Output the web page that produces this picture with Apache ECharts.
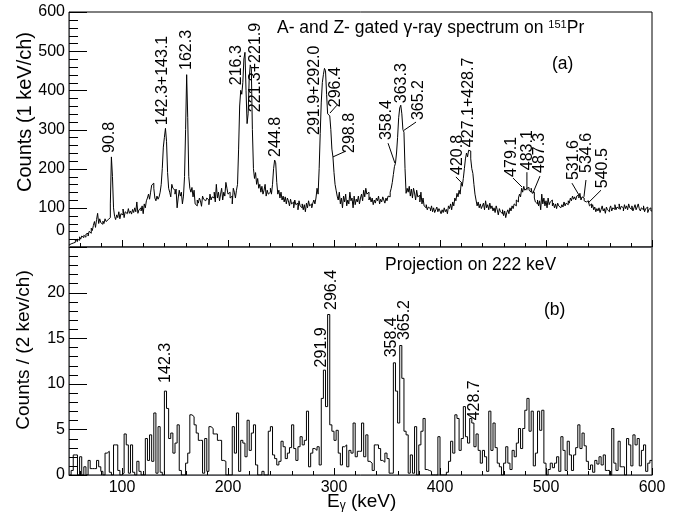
<!DOCTYPE html>
<html>
<head>
<meta charset="utf-8">
<script src="https://cdn.jsdelivr.net/npm/echarts@6/dist/echarts.min.js"></script>
<style>
html, body { margin: 0; padding: 0; background: #fff; }
#main { width: 679px; height: 517px; }
</style>
</head>
<body>
<div id="main"></div>
<script>
// energy range of both spectra (keV)
var eStart = 50;
var eEnd = 600;

// (a) A- and Z- gated spectrum, 1 keV/ch, from 50 keV
var gatedWidth = 1;
var gatedCounts = [
  5, 8, 12, 10, 15, 12, 18, 14, 20, 17,
  26, 20, 28, 24, 30, 25, 33, 35, 28, 40,
  35, 48, 42, 55, 65, 50, 70, 86, 60, 72,
  62, 58, 66, 60, 72, 65, 70, 68, 75, 110,
  230, 180, 100, 78, 70, 82, 75, 90, 72, 85,
  82, 97, 75, 90, 85, 80, 98, 86, 92, 84,
  96, 88, 100, 90, 115, 86, 95, 100, 92, 105,
  85, 110, 100, 118, 125, 135, 122, 140, 158, 163,
  150, 125, 118, 130, 122, 128, 140, 160, 200, 255,
  280, 303, 270, 190, 150, 140, 128, 160, 150, 145,
  135, 148, 100, 125, 145, 130, 140, 110, 130, 180,
  300, 440, 330, 180, 150, 140, 152, 128, 145, 110,
  105, 120, 112, 125, 118, 104, 130, 122, 118, 115,
  125, 120, 108, 135, 120, 128, 125, 140, 115, 160,
  125, 140, 118, 135, 150, 120, 140, 130, 165, 150,
  135, 140, 125, 130, 110, 150, 140, 125, 145, 160,
  250, 360, 400, 390, 420, 480, 497, 400, 315, 340,
  430, 465, 455, 300, 200, 175, 190, 160, 175, 150,
  160, 140, 155, 135, 145, 160, 130, 145, 135, 140,
  150, 135, 160, 200, 222, 215, 165, 135, 145, 125,
  140, 120, 130, 115, 128, 110, 125, 118, 105, 122,
  110, 115, 100, 120, 108, 112, 95, 118, 105, 100,
  110, 95, 108, 90, 112, 100, 118, 105, 110, 100,
  112, 120, 110, 125, 150, 135, 200, 290, 370, 420,
  440, 456, 450, 390, 340, 335, 340, 300, 250, 230,
  190, 160, 145, 130, 120, 140, 110, 125, 100, 130,
  115, 135, 105, 120, 110, 140, 118, 125, 100, 130,
  108, 122, 115, 130, 110, 125, 135, 118, 145, 128,
  150, 135, 140, 120, 128, 115, 125, 108, 120, 112,
  125, 118, 130, 110, 122, 115, 128, 120, 112, 125,
  118, 130, 128, 140, 150, 165, 185, 205, 214, 240,
  280, 330, 355, 362, 340, 300, 293, 200, 137, 150,
  140, 155, 130, 148, 125, 150, 138, 120, 145, 128,
  132, 115, 140, 110, 125, 105, 100, 108, 95, 102,
  98, 92, 105, 90, 100, 88, 95, 102, 90, 98,
  92, 85, 95, 88, 100, 90, 96, 85, 105, 98,
  110, 95, 115, 105, 125, 118, 137, 128, 145, 135,
  163, 155, 175, 200, 225, 240, 230, 247, 245, 225,
  200, 188, 160, 135, 120, 105, 115, 100, 110, 98,
  105, 112, 95, 118, 100, 108, 95, 112, 98, 105,
  92, 100, 88, 105, 95, 82, 98, 90, 85, 95,
  80, 92, 75, 88, 95, 85, 100, 92, 105, 98,
  110, 105, 120, 115, 125, 135, 128, 150, 140, 155,
  145, 150, 148, 152, 145, 140, 150, 137, 140, 125,
  115, 110, 120, 105, 118, 95, 135, 110, 125, 105,
  118, 100, 125, 108, 115, 120, 105, 112, 100, 110,
  98, 112, 105, 100, 95, 108, 102, 115, 105, 112,
  108, 118, 112, 125, 118, 130, 122, 128, 120, 130,
  133, 125, 137, 120, 128, 125, 118, 115, 112, 118,
  115, 105, 110, 100, 108, 95, 102, 90, 98, 92,
  100, 88, 96, 105, 92, 98, 86, 102, 95, 90,
  98, 105, 92, 100, 96, 108, 95, 102, 98, 110,
  96, 104, 100, 92, 108, 98, 105, 95, 110, 100,
  96, 105, 92, 100, 108, 95, 102, 110, 98, 92,
  100, 95, 105, 90, 98, 102, 88, 96, 100, 92
];

// (b) projection on 222 keV, 2 keV/ch, from 50 keV
var projWidth = 2;
var projCounts = [
  0, 0.5, 2.2, 2.2, 0, 2.0, 0, 0.9, 0, 1.6,
  0.7, 0.7, 0.7, 1.6, 0.9, 0.4, 0, 2.4, 2.6, 0.3,
  0, 3.3, 3.3, 0.5, 0, 0.2, 4.5, 3.3, 0.2, 3.3,
  0.3, 0, 1.5, 0.4, 0, 0, 4.0, 1.6, 4.4, 1.5,
  6.8, 0.2, 5.3, 0.3, 0, 9.2, 7.3, 4.0, 4.6, 2.4,
  3.5, 5.5, 0.5, 0, 0, 1.3, 2.4, 6.6, 6.4, 5.5,
  4.6, 3.8, 3.8, 0.2, 4.0, 0.4, 5.3, 5.1, 4.5, 4.5,
  3.8, 3.8, 1.6, 1.5, 0, 0, 0, 5.3, 2.4, 6.8,
  0.4, 3.8, 3.5, 2.0, 6.0, 2.7, 4.6, 5.5, 1.1, 0,
  0, 0.4, 0, 0, 4.8, 5.3, 2.2, 1.8, 1.1, 1.5,
  3.7, 3.1, 1.8, 2.4, 3.0, 5.5, 2.9, 1.6, 3.1, 4.2,
  3.3, 3.8, 7.0, 0.9, 2.4, 2.9, 2.7, 3.1, 1.1, 8.4,
  11.5, 7.5, 17.6, 5.5, 4.8, 3.8, 4.9, 2.4, 1.1, 3.1,
  3.3, 0.9, 2.7, 2.4, 5.7, 2.0, 2.6, 2.6, 5.7, 2.0,
  4.4, 1.5, 1.3, 0.5, 3.3, 3.3, 2.9, 1.6, 1.4, 2.4,
  1.8, 0.2, 0.2, 12.3, 9.2, 5.7, 14.2, 10.6, 4.8, 4.4,
  0.2, 2.2, 0.2, 5.3, 0, 3.3, 4.8, 6.2, 0.6, 0.5,
  0.4, 0, 0, 0, 4.2, 0, 0, 0, 0.3, 1.5,
  3.7, 2.4, 6.6, 6.2, 2.7, 4.0, 7.5, 4.2, 3.5, 6.2,
  5.7, 3.1, 4.5, 2.7, 1.3, 2.7, 2.0, 0.4, 7.0, 2.7,
  5.7, 3.0, 1.3, 0.9, 0, 1.3, 3.1, 1.3, 0.6, 2.7,
  2.0, 3.5, 5.1, 2.9, 5.1, 7.1, 8.4, 4.8, 7.0, 1.0,
  2.4, 7.0, 4.9, 7.1, 1.3, 0, 0.6, 1.3, 0.8, 1.3,
  2.0, 0.4, 4.2, 2.7, 0.5, 3.7, 2.2, 0.5, 2.2, 3.0,
  5.5, 2.9, 4.6, 3.2, 1.5, 0.6, 1.1, 0.3, 1.6, 1.2,
  2.0, 1.1, 2.2, 0.5, 0.5, 0, 5.1, 1.3, 0.5, 3.7,
  0.9, 0.9, 0, 4.0, 3.3, 1.0, 4.4, 3.3, 4.0, 1.0,
  2.7, 3.3, 0.4, 1.3, 1.6
];

// axis ticks and labels
var xMajorTicks = [100, 200, 300, 400, 500, 600];
var xMinorStep = 20;
var yTopMax = 600, yTopStep = 100;
var yBottomMax = 25, yBottomStep = 5;
var minorDiv = 5;

// peak labels, panel (a): text, where the text starts (keV, counts), leader line
var gatedLabels = ['90.8', '142.3+143.1', '162.3', '216.3', '221.3+221.9', '244.8',
                   '291.9+292.0', '296.4', '298.8', '358.4', '363.3', '365.2', '420.8',
                   '427.1+428.7', '479.1', '483.1', '487.3', '531.6', '534.6', '540.5'];
var gatedLabelAt = [[88.7, 240], [138.7, 311], [161.3, 452], [208.5, 413], [226.4, 344], [245.3, 230],
                    [282, 286], [301.9, 357], [315, 240], [350, 273], [364, 367], [380, 324], [417, 184],
                    [427.4, 255], [468, 179], [483, 196], [494, 189], [526.4, 171], [538.7, 189], [553.8, 150]];
var gatedLeaders = [[296.2, 342, 302.8, 362], [299, 230, 311.3, 245], [357.5, 214, 351, 265],
                    [366, 298, 377.4, 319], [420.8, 163, 415, 179], [477.4, 153, 468.9, 176],
                    [482, 145, 482, 191], [487.7, 138, 494.3, 181], [531, 133, 524.5, 163],
                    [535.8, 128, 537.7, 171], [539.6, 112, 551.9, 145]];

// peak labels, panel (b)
var projLabels = ['142.3', '291.9', '296.4', '358.4', '365.2', '428.7'];
var projLabelAt = [[141.5, 10.1], [288.7, 11.8], [298.1, 18.1], [354.7, 12.9], [367, 14.8], [433, 6.0]];

var FONT = '"Liberation Sans", Arial, Helvetica, sans-serif';

/**
 * histogram -> step line points (bin low edges + closing edge)
 */
function toSteps(counts, width) {
    var pts = [];
    for (var i = 0; i < counts.length; i++) {
        pts.push([eStart + i * width, counts[i]]);
    }
    pts.push([eStart + counts.length * width, counts[counts.length - 1]]);
    return pts;
}

function xAxisDef(grid, showLabels) {
    return {
        type: 'value', gridIndex: grid, min: eStart, max: eEnd,
        axisTick: { show: false },
        axisLabel: { show: showLabels, customValues: xMajorTicks, color: '#000',
                     fontSize: 16, fontFamily: FONT, margin: 5 },
        splitLine: { show: false }
    };
}

function yAxisDef(grid, max, step, fmt, rich) {
    return {
        type: 'value', gridIndex: grid, min: 0, max: max, interval: step,
        axisTick: { show: false },
        axisLabel: { color: '#000', fontSize: 16, fontFamily: FONT, margin: 4,
                     formatter: fmt, rich: rich },
        splitLine: { show: false }
    };
}

var chart = echarts.init(document.getElementById('main'));

chart.setOption({
    animation: false,
    grid: [
        { left: 69, top: 12, width: 583, height: 235, show: true, borderColor: '#000', borderWidth: 1 },
        { left: 69, top: 247, width: 583, height: 228, show: true, borderColor: '#000', borderWidth: 1 }
    ],
    xAxis: [xAxisDef(0, false), xAxisDef(1, true)],
    yAxis: [
        // the 0 of the upper panel sits a bit higher, clear of the lower panel
        yAxisDef(0, yTopMax, yTopStep, function(v) { return v === 0 ? '{lift|0}' : String(v); },
                 { lift: { fontSize: 16, fontFamily: FONT, color: '#000', padding: [0, 0, 32, 0] } }),
        yAxisDef(1, yBottomMax, yBottomStep, function(v) { return v === yBottomMax ? '' : String(v); })
    ],
    series: [
        {
            type: 'line', xAxisIndex: 0, yAxisIndex: 0, step: 'end', symbol: 'none',
            lineStyle: { color: '#000', width: 1 },
            data: toSteps(gatedCounts, gatedWidth)
        },
        {
            type: 'line', xAxisIndex: 1, yAxisIndex: 1, step: 'end', symbol: 'none',
            lineStyle: { color: '#000', width: 1 },
            data: toSteps(projCounts, projWidth)
        }
    ]
});

// annotations: ticks, texts and leader lines placed through the axes
var elements = [];

function finder(panel) {
    return { xAxisIndex: panel, yAxisIndex: panel };
}

function seg(x1, y1, x2, y2) {
    return {
        type: 'line', z: 100, silent: true,
        shape: { x1: x1, y1: y1, x2: x2, y2: y2 },
        style: { stroke: '#000', lineWidth: 1 }
    };
}

// ROOT style ticks, drawn inside the frame
function addTicks(panel, yMax, yStep) {
    var v, p, len, yMinor = yStep / minorDiv;
    for (v = 0; v <= yMax + 1e-9; v += yMinor) {
        p = chart.convertToPixel(finder(panel), [eStart, v]);
        len = Math.abs(v / yStep - Math.round(v / yStep)) < 1e-6 ? 18 : 9;
        var yy = Math.round(p[1]) + 0.5;
        elements.push(seg(p[0], yy, p[0] + len, yy));
    }
    for (v = 60; v <= eEnd; v += xMinorStep) {
        p = chart.convertToPixel(finder(panel), [v, 0]);
        len = v % 100 === 0 ? 7 : 4;
        var xx = Math.round(p[0]) + 0.5;
        elements.push(seg(xx, p[1], xx, p[1] - len));
    }
}
addTicks(0, yTopMax, yTopStep);
addTicks(1, yBottomMax, yBottomStep);

function vLabel(text, p) {
    return {
        type: 'text', x: p[0], y: p[1], rotation: Math.PI / 2, z: 100,
        style: { text: text, fill: '#000', font: '16px ' + FONT,
                 align: 'left', verticalAlign: 'middle' }
    };
}

gatedLabels.forEach(function(t, i) {
    elements.push(vLabel(t, chart.convertToPixel(finder(0), gatedLabelAt[i])));
});
gatedLeaders.forEach(function(l) {
    var a = chart.convertToPixel(finder(0), [l[0], l[1]]);
    var b = chart.convertToPixel(finder(0), [l[2], l[3]]);
    elements.push(seg(a[0], a[1], b[0], b[1]));
});
projLabels.forEach(function(t, i) {
    elements.push(vLabel(t, chart.convertToPixel(finder(1), projLabelAt[i])));
});

function plainText(x, y, text, size, rich) {
    var el = {
        type: 'text', x: x, y: y, z: 100,
        style: { text: text, fill: '#000', font: size + 'px ' + FONT,
                 align: 'left', verticalAlign: 'middle' }
    };
    if (rich) el.style.rich = rich;
    return el;
}

// panel titles
elements.push(plainText(277, 28, '{n|A- and Z- gated γ-ray spectrum on }{s|151}{n|Pr}', 17.5, {
    n: { fontSize: 17.5, fontFamily: FONT, fill: '#000', verticalAlign: 'bottom' },
    s: { fontSize: 11, fontFamily: FONT, fill: '#000', verticalAlign: 'top' }
}));
elements.push(plainText(552, 64, '(a)', 17.5));
elements.push(plainText(385, 265, 'Projection on 222 keV', 17.5));
elements.push(plainText(544, 310, '(b)', 17.5));

// axis titles
elements.push({
    type: 'text', x: 25, y: 112, rotation: Math.PI / 2, z: 100,
    style: { text: 'Counts (1 keV/ch)', fill: '#000', font: '20px ' + FONT,
             align: 'center', verticalAlign: 'middle' }
});
elements.push({
    type: 'text', x: 24, y: 350, rotation: Math.PI / 2, z: 100,
    style: { text: 'Counts / (2 kev/ch)', fill: '#000', font: '19px ' + FONT,
             align: 'center', verticalAlign: 'middle' }
});
elements.push(plainText(327, 502, '{e|E}{g|γ}{e| (keV)}', 19, {
    e: { fontSize: 19, fontFamily: FONT, fill: '#000', verticalAlign: 'top' },
    g: { fontSize: 12, fontFamily: FONT, fill: '#000', verticalAlign: 'bottom' }
}));

chart.setOption({ graphic: elements });
</script>
</body>
</html>
